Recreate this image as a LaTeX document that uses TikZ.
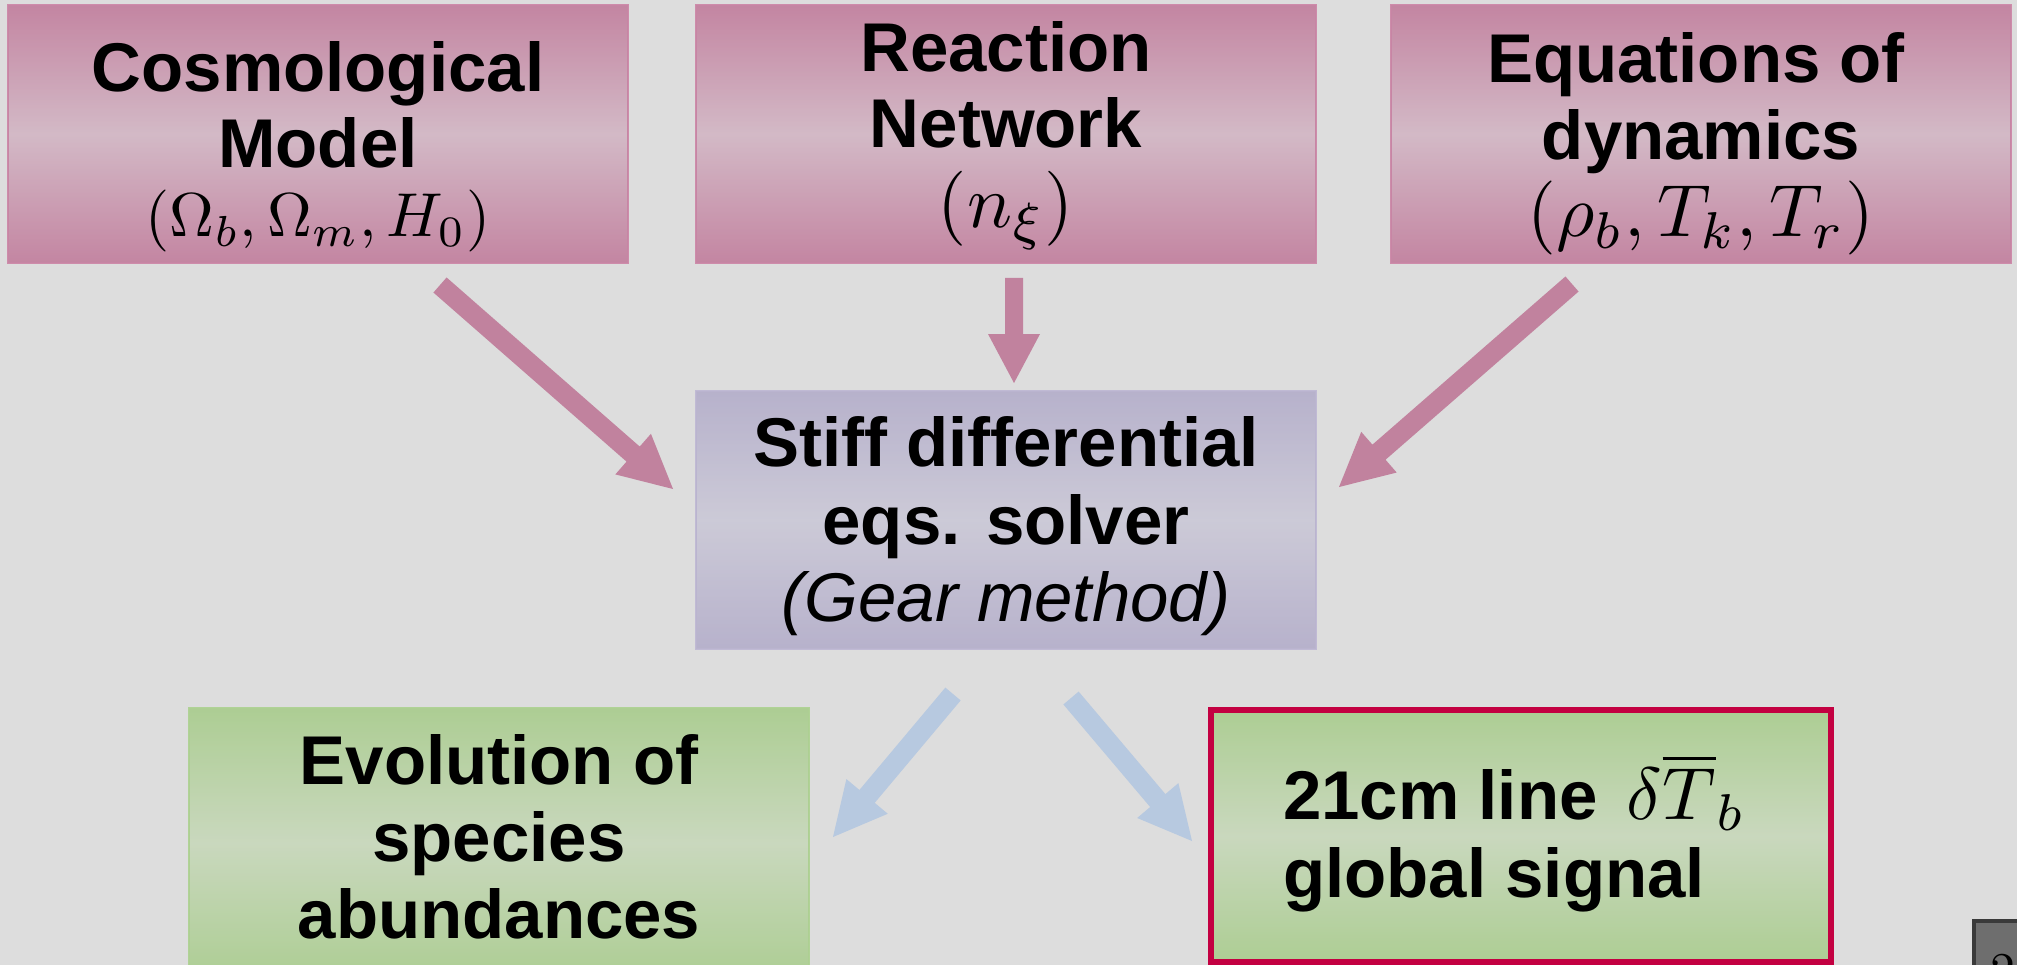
\documentclass[tikz,border=0pt]{standalone}
\usepackage{graphicx}
\usepackage{fontspec}
\newfontfamily\lsans{Liberation Sans}
\usetikzlibrary{calc,fadings}

\definecolor{bg}{RGB}{221,221,221}
\definecolor{pinkTop}{RGB}{199,140,167}
\definecolor{pinkMid}{RGB}{223,220,223}
\definecolor{pinkSide}{RGB}{190,122,153}
\definecolor{pinkLine}{RGB}{205,140,170}
\definecolor{pinkArrow}{RGB}{193,130,158}
\definecolor{solTop}{RGB}{187,182,206}
\definecolor{solMid}{RGB}{220,220,224}
\definecolor{solSide}{RGB}{176,170,200}
\definecolor{solLine}{RGB}{192,186,212}
\definecolor{grTop}{RGB}{176,207,152}
\definecolor{grMid}{RGB}{220,223,217}
\definecolor{grSide}{RGB}{168,204,140}
\definecolor{grLine}{RGB}{176,210,150}
\definecolor{blueArrow}{RGB}{183,201,224}
\definecolor{redLine}{RGB}{195,0,65}
\definecolor{pgDark}{RGB}{58,58,58}
\definecolor{pgFill}{RGB}{110,110,110}

\tikzfading[name=sidefade, left color=transparent!65, middle color=transparent!100, right color=transparent!65]

\newcommand\blockarr[6]{%
  \coordinate (#2b) at ($(#3)!#6!(#2)$);
  \fill[#1] ($(#2)!#4!90:(#3)$) -- ($(#2b)!#4!90:(#3)$) -- ($(#2b)!#5!90:(#3)$) -- (#3)
    -- ($(#2b)!#5!-90:(#3)$) -- ($(#2b)!#4!-90:(#3)$) -- ($(#2)!#4!-90:(#3)$) -- cycle;
}
\newcommand\bigmath[2]{{\fontsize{10}{12}\selectfont\scalebox{#1}{$#2$}}}

\tikzset{
  box/.style={rectangle, inner sep=0pt, outer sep=0pt, anchor=north west,
    minimum width=620pt, minimum height=258pt},
  pinkbox/.style={box, draw=pinkLine, line width=1.2pt, top color=pinkTop, bottom color=pinkTop, middle color=pinkMid},
  solbox/.style={box, draw=solLine, line width=1.2pt, top color=solTop, bottom color=solTop, middle color=solMid},
  grbox/.style={box, draw=grLine, line width=1.2pt, top color=grTop, bottom color=grTop, middle color=grMid},
  redbox/.style={box, draw=redLine, line width=6pt, minimum width=620pt, minimum height=252pt,
    top color=grTop, bottom color=grTop, middle color=grMid},
  lbl/.style={anchor=base, inner sep=0pt, text=black, font=\lsans\bfseries\fontsize{69}{76}\selectfont},
  ilbl/.style={anchor=base, inner sep=0pt, text=black, font=\lsans\itshape\fontsize{69}{76}\selectfont},
  mlbl/.style={anchor=base, inner sep=0pt, text=black, font=\fontsize{10}{12}\selectfont},
}

\begin{document}
\begin{tikzpicture}[x=1pt, y=-1pt]
\useasboundingbox (0,0) rectangle (2017,965);
\clip (0,0) rectangle (2017,965);
\fill[bg] (0,0) rectangle (2017,965);

% boxes
\node[pinkbox] (cosmo) at (8,5) {};
\node[pinkbox] (react) at (696,5) {};
\node[pinkbox] (eqs) at (1391,5) {};
\node[solbox] (solver) at (696,391) {};
\node[grbox, minimum height=270pt] (evol) at (189,708) {};
\node[redbox] (signal) at (1211,710) {};

% side shading overlays
\foreach \b/\c in {cosmo/pinkSide, react/pinkSide, eqs/pinkSide, solver/solSide, evol/grSide}{
  \fill[\c, path fading=sidefade] (\b.north west) rectangle (\b.south east);
}
\fill[grSide, path fading=sidefade] ($(signal.north west)+(3,3)$) rectangle ($(signal.south east)+(-3,-3)$);

% texts
\node[lbl] (c1) at (318,92) {Cosmological};
\node[lbl] (c2) at (318,168) {Model};
\node[mlbl] (c3) at (318,237) {\scalebox{6.2}{$(\Omega_b,\Omega_m,H_0)$}};

\node[lbl] (r1) at (1006,72) {Reaction};
\node[lbl] (r2) at (1006,148) {Network};
\node[mlbl] (r3) at (1006,228) {\scalebox{7.5}{$(n_\xi)$}};

\node[lbl] (e1) at (1696,83) {Equations of};
\node[lbl] (e2) at (1701,160) {dynamics};
\node[mlbl] (e3) at (1701,237) {\scalebox{7.4}{$(\rho_b,T_k,T_r)$}};

\node[lbl] (s1) at (1006,466) {Stiff differential};
\node[lbl] (s2) at (1006,544) {eqs. solver};
\node[ilbl] (s3) at (1006,621) {(Gear method)};

\node[lbl] (v1) at (499,784) {Evolution of};
\node[lbl] (v2) at (499,861) {species};
\node[lbl] (v3) at (499,938) {abundances};

\node[lbl, anchor=base west] (g1) at (1283,819) {21cm line\hspace{10pt} \bigmath{7.4}{\delta\overline{T}_b}};
\node[lbl, anchor=base west] (g2) at (1283,897) {global signal};

% arrows
\coordinate (a1s) at (440,285); \coordinate (a1e) at (673,489);
\coordinate (a2s) at (1014,278); \coordinate (a2e) at (1014,383);
\coordinate (a3s) at (1572,284); \coordinate (a3e) at (1339,487);
\coordinate (a4s) at (953,694); \coordinate (a4e) at (833,837);
\coordinate (a5s) at (1071,698); \coordinate (a5e) at (1192,841);
\blockarr{pinkArrow}{a1s}{a1e}{10pt}{27pt}{53pt}
\blockarr{pinkArrow}{a2s}{a2e}{9pt}{26pt}{49pt}
\blockarr{pinkArrow}{a3s}{a3e}{10pt}{27pt}{53pt}
\blockarr{blueArrow}{a4s}{a4e}{10pt}{27pt}{53pt}
\blockarr{blueArrow}{a5s}{a5e}{10pt}{27pt}{53pt}

% page number box
\node[rectangle, draw=pgDark, line width=4pt, fill=pgFill, anchor=north west, inner sep=0pt, outer sep=0pt,
  minimum width=80pt, minimum height=80pt] (pg) at (1974,921) {};
\node[anchor=north west, inner sep=0pt, font=\fontsize{10}{12}\selectfont] (pgn) at (1990,954) {\scalebox{5}{2}};
\end{tikzpicture}
\end{document}
